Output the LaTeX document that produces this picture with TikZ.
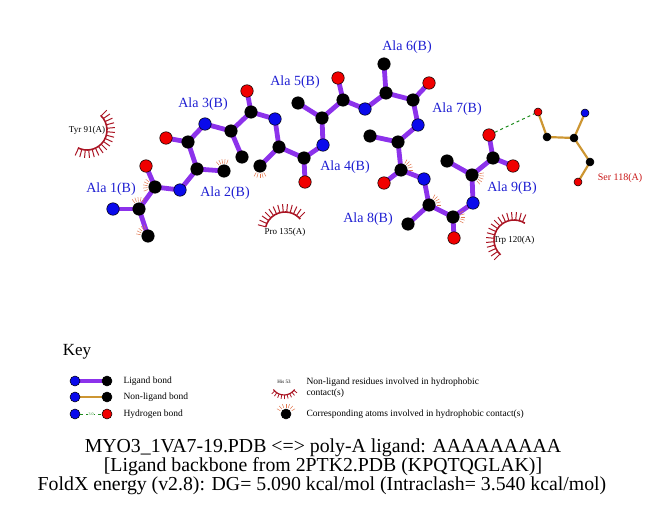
\documentclass[tikz,border=0pt]{standalone}
\usepackage{fontspec}
\setmainfont{Liberation Serif}
\usetikzlibrary{backgrounds}
\definecolor{atomblue}{RGB}{10,10,235}
\definecolor{atomred}{RGB}{240,0,0}
\definecolor{labcol}{RGB}{30,30,210}
\definecolor{ligcol}{RGB}{140,50,235}
\definecolor{nlcol}{RGB}{205,150,50}
\definecolor{hbcol}{RGB}{30,140,30}
\definecolor{hycol}{RGB}{170,20,35}
\definecolor{spcol}{RGB}{225,120,80}
\definecolor{sercol}{RGB}{200,20,20}

\begin{document}
\begin{tikzpicture}[x=1pt, y=-1pt,
    atom/.style={circle, draw=black, line width=.5pt, inner sep=0pt, minimum size=12.5pt},
    catom/.style={atom, fill=black},
    natom/.style={atom, fill=atomblue},
    oatom/.style={atom, fill=atomred},
    sm/.style={minimum size=8pt},
    km/.style={minimum size=10pt},
    ligbond/.style={draw=ligcol, line width=4.8pt},
    nlbond/.style={draw=nlcol, line width=2.2pt},
    hbond/.style={draw=hbcol, dashed, line width=1pt},
    reslabel/.style={text=labcol, font=\fontsize{14}{14}\selectfont},
    hylabel/.style={font=\fontsize{9}{9}\selectfont, inner sep=0pt},
    hyarc/.style={draw=hycol, line width=1.6pt},
    hyspike/.style={draw=hycol, line width=1pt},
    cspike/.style={draw=spcol, line width=.5pt},
    keytext/.style={anchor=west, font=\fontsize{9.5}{11}\selectfont, align=left},
    titletext/.style={anchor=base, font=\fontsize{19.8}{20}\selectfont}]
  \useasboundingbox (0,0) rectangle (651,511);

  \node[natom] (N1)  at (113,209) {};
  \node[catom] (CA1) at (139,209) {};
  \node[catom] (CB1) at (148,236) {};
  \node[catom] (C1)  at (155,187) {};
  \node[oatom] (O1)  at (146,166) {};
  \node[natom] (N2)  at (180,190) {};
  \node[catom] (CA2) at (197,169) {};
  \node[catom] (CB2) at (224,171) {};
  \node[catom] (C2)  at (188,142) {};
  \node[oatom] (O2)  at (166,138) {};
  \node[natom] (N3)  at (205,124) {};
  \node[catom] (CA3) at (231,131) {};
  \node[catom] (CB3) at (242,157) {};
  \node[catom] (C3)  at (251,112) {};
  \node[oatom] (O3)  at (247,91) {};
  \node[natom] (N4)  at (275,119) {};
  \node[catom] (CA4) at (279,147) {};
  \node[catom] (CB4) at (260,166) {};
  \node[catom] (C4)  at (304,158) {};
  \node[oatom] (O4)  at (305,182) {};
  \node[natom] (N5)  at (323,145) {};
  \node[catom] (CA5) at (322,118) {};
  \node[catom] (CB5) at (298,103) {};
  \node[catom] (C5)  at (343,100) {};
  \node[oatom] (O5)  at (338,78) {};
  \node[natom] (N6)  at (365,109) {};
  \node[catom] (CA6) at (386,93) {};
  \node[catom] (CB6) at (384,64) {};
  \node[catom] (C6)  at (413,100) {};
  \node[oatom] (O6)  at (429,83) {};
  \node[natom] (N7)  at (418,125) {};
  \node[catom] (CA7) at (398,142) {};
  \node[catom] (CB7) at (370,136) {};
  \node[catom] (C7)  at (401,170) {};
  \node[oatom] (O7)  at (384,183) {};
  \node[natom] (N8)  at (424,179) {};
  \node[catom] (CA8) at (429,205) {};
  \node[catom] (CB8) at (408,224) {};
  \node[catom] (C8)  at (453,217) {};
  \node[oatom] (O8)  at (454,238) {};
  \node[natom] (N9)  at (473,203) {};
  \node[catom] (CA9) at (472,175) {};
  \node[catom] (CB9) at (447,161) {};
  \node[catom] (C9)  at (493,158) {};
  \node[oatom] (O9)  at (489,135) {};
  \node[oatom] (OXT) at (513,166) {};

  \node[oatom, sm] (sOG) at (538,112) {};
  \node[catom, sm] (sCB) at (547,137) {};
  \node[catom, sm] (sCA) at (574,138) {};
  \node[natom, sm] (sN)  at (585,113) {};
  \node[catom, sm] (sC)  at (590,162) {};
  \node[oatom, sm] (sO)  at (578,182) {};

  \begin{scope}[on background layer]
    \foreach \a/\b in {N1/CA1, CA1/CB1, CA1/C1, C1/O1, C1/N2, N2/CA2, CA2/CB2, CA2/C2,
        C2/O2, C2/N3, N3/CA3, CA3/CB3, CA3/C3, C3/O3, C3/N4, N4/CA4, CA4/CB4, CA4/C4,
        C4/O4, C4/N5, N5/CA5, CA5/CB5, CA5/C5, C5/O5, C5/N6, N6/CA6, CA6/CB6, CA6/C6,
        C6/O6, C6/N7, N7/CA7, CA7/CB7, CA7/C7, C7/O7, C7/N8, N8/CA8, CA8/CB8, CA8/C8,
        C8/O8, C8/N9, N9/CA9, CA9/CB9, CA9/C9, C9/O9, C9/OXT}
      \draw[ligbond] (\a.center) -- (\b.center);
    \foreach \a/\b in {sOG/sCB, sCB/sCA, sCA/sN, sCA/sC, sC/sO}
      \draw[nlbond] (\a.center) -- (\b.center);
  \end{scope}
  \draw[hbond] (O9) -- (sOG);

  \foreach \at/\s in {C1/160, CA1/235, CB1/190, CB2/230, CB4/60, C7/300, CA8/-60, C8/-30, CA9/-10}
    \foreach \k in {0,...,4}
      \draw[cspike] (\at.center) ++({\s+15*\k}:7.5) -- ++({\s+15*\k}:4.5);

  \node[hylabel] (tyr) at (87,130) {Tyr 91(A)};
  \draw[hyarc] (tyr.center) ++(-47:20) arc[start angle=-47, end angle=117, radius=20];
  \foreach \a in {-45,-35,...,115}
    \draw[hyspike] (tyr.center) ++(\a:20) -- ++(\a:8);
  \node[hylabel] (pro) at (285,232) {Pro 135(A)};
  \draw[hyarc] (pro.center) ++(-166:20) arc[start angle=-166, end angle=-40, radius=20];
  \foreach \a in {-165,-155,...,-45}
    \draw[hyspike] (pro.center) ++(\a:20) -- ++(\a:8);
  \node[hylabel] (trp) at (514,240) {Trp 120(A)};
  \draw[hyarc] (trp.center) ++(132:20) arc[start angle=132, end angle=303, radius=20];
  \foreach \a in {135,145,...,300}
    \draw[hyspike] (trp.center) ++(\a:20) -- ++(\a:8);
  \node[hylabel, text=sercol, font=\fontsize{10}{10}\selectfont] (ser) at (620,178) {Ser 118(A)};

  \node[reslabel] (ala1) at (111,189) {Ala 1(B)};
  \node[reslabel] (ala2) at (225,193) {Ala 2(B)};
  \node[reslabel] (ala3) at (203,104) {Ala 3(B)};
  \node[reslabel] (ala4) at (345,167) {Ala 4(B)};
  \node[reslabel] (ala5) at (295,82) {Ala 5(B)};
  \node[reslabel] (ala6) at (407,47) {Ala 6(B)};
  \node[reslabel] (ala7) at (457,109) {Ala 7(B)};
  \node[reslabel] (ala8) at (368,219) {Ala 8(B)};
  \node[reslabel] (ala9) at (512,188) {Ala 9(B)};

  \node[font=\fontsize{17}{17}\selectfont] (key) at (77,352) {Key};
  \node[natom, km] (k1a) at (75,381) {};
  \node[catom, km] (k1b) at (107,381) {};
  \node[natom, km] (k2a) at (75,397) {};
  \node[catom, km] (k2b) at (107,397) {};
  \node[natom, km] (k3a) at (75,414) {};
  \node[oatom, km] (k3b) at (107,414) {};
  \begin{scope}[on background layer]
    \draw[ligbond] (k1a.center) -- (k1b.center);
    \draw[nlbond] (k2a.center) -- (k2b.center);
  \end{scope}
  \draw[hbond] (k3a) -- node[fill=white, inner sep=.5pt, text=hbcol, font=\fontsize{4}{4}\selectfont] {3.0} (k3b);
  \node[keytext] (kt1) at (120,381) {Ligand bond};
  \node[keytext] (kt2) at (120,397) {Non-ligand bond};
  \node[keytext] (kt3) at (120,414) {Hydrogen bond};

  \node[font=\fontsize{5}{5}\selectfont, inner sep=0pt] (his) at (284,382) {His 53};
  \draw[hyarc, line width=1.2pt] (his.center) ++(145:13) arc[start angle=145, end angle=35, radius=13];
  \foreach \a in {40,52,...,140}
    \draw[hyspike, line width=.8pt] (his.center) ++(\a:13) -- ++(\a:4);
  \node[catom, km] (kat) at (286,414) {};
  \foreach \a in {-150,-130,...,-30}
    \draw[cspike] (kat.center) ++(\a:6.5) -- ++(\a:4);
  \node[keytext] (kt4) at (303,388) {Non-ligand residues involved in hydrophobic\\contact(s)};
  \node[keytext] (kt5) at (303,414) {Corresponding atoms involved in hydrophobic contact(s)};

  \node[titletext] (title1) at (323,452) {MYO3\_1VA7-19.PDB <=> poly-A ligand: AAAAAAAAA};
  \node[titletext] (title2) at (323,471) {[Ligand backbone from 2PTK2.PDB (KPQTQGLAK)]};
  \node[titletext] (title3) at (322,490) {FoldX energy (v2.8): DG= 5.090 kcal/mol (Intraclash= 3.540 kcal/mol)};
\end{tikzpicture}
\end{document}
